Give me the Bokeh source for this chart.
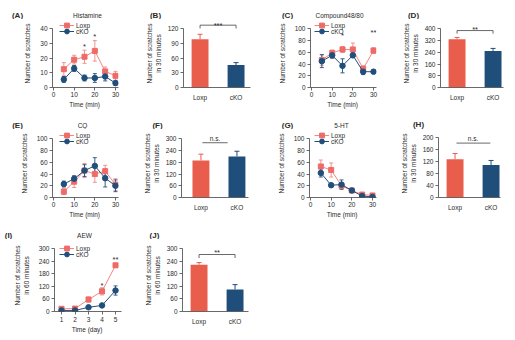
from bokeh.plotting import figure
from bokeh.layouts import row, column
from bokeh.models import (Range1d, FixedTicker, ColumnDataSource, Whisker, TeeHead,
                          Label, Legend, LegendItem)
from bokeh.embed import file_html
from bokeh.resources import INLINE

# ---------------------------------------------------------------- data
groups = ["Loxp", "cKO"]
time_min = [5, 10, 15, 20, 25, 30]
time_day = [1, 2, 3, 4, 5]

# (A) Histamine time course
hist_loxp = [12.5, 19, 21, 25, 11, 8]
hist_loxp_sem = [4.5, 3, 4.5, 7, 3, 3]
hist_cko = [5.5, 13, 6.5, 6.5, 7.5, 3]
hist_cko_sem = [2, 2, 2, 3, 3, 1.5]
# (B) Histamine, total in 30 min
hist_total = [99, 46]
hist_total_sem = [10, 5]

# (C) Compound48/80 time course
c4880_loxp = [47, 59, 65, 65, 32, 63]
c4880_loxp_sem = [9, 5, 5, 11, 5, 5]
c4880_cko = [45, 55, 37, 55, 27, 27]
c4880_cko_sem = [11, 5, 12, 4, 5, 3]
# (D) Compound48/80, total in 30 min
c4880_total = [330, 250]
c4880_total_sem = [12, 17]

# (E) CQ time course
cq_loxp = [10, 27, 46, 40, 45, 22]
cq_loxp_sem = [5, 10, 12, 14, 10, 10]
cq_cko = [23, 32, 46, 54, 33, 20]
cq_cko_sem = [5, 5, 10, 14, 15, 10]
# (F) CQ, total in 30 min
cq_total = [190, 210]
cq_total_sem = [32, 27]

# (G) 5-HT time course
ht_loxp = [53, 47, 20, 12, 5, 3.5]
ht_loxp_sem = [11, 12, 5, 3, 2, 1]
ht_cko = [42, 21, 22, 12, 2.5, 1]
ht_cko_sem = [7, 3, 8, 3, 1, 1]
# (H) 5-HT, total in 30 min
ht_total = [127, 108]
ht_total_sem = [19, 15]

# (I) AEW, scratches per 60 min over days
aew_loxp = [13, 14, 57, 96, 220]
aew_loxp_sem = [3, 3, 12, 17, 9]
aew_cko = [5, 5, 20, 29, 100]
aew_cko_sem = [2, 2, 5, 8, 22]
# (J) AEW, total in 60 min
aew_total = [223, 105]
aew_total_sem = [10, 23]

# ---------------------------------------------------------------- style
FONT = "Liberation Sans"
INK = "#2b2b2b"
AXIS = "#444444"
LOXP_BAR = "#E95D4C"
CKO_BAR = "#1F4E7B"
LOXP_LINE = "#F08884"
LOXP_MARK = "#EE6B67"
CKO_LINE = "#214F7C"
HEAD = 19          # height of the strip holding panel letters and panel titles
PAGE_W = 515
STAR_SIZE = 7.5    # px; asterisks sit about 0.57 em above the baseline

# geometry of every panel in its own canvas (px): size, frame left/right,
# pixel row of the top y tick and of y = 0 (rows counted from the strip top)
LAY = {
    "A": dict(W=125, H=110, L=52, R=118, Ta=29, B=91),
    "B": dict(W=130, H=110, L=58, R=125, Ta=29, B=91),
    "C": dict(W=128, H=110, L=55, R=121, Ta=29, B=91),
    "D": dict(W=132, H=110, L=57, R=120, Ta=29, B=91),
    "E": dict(W=125, H=110, L=52, R=118, Ta=29, B=91),
    "F": dict(W=130, H=110, L=56, R=123, Ta=29, B=91),
    "G": dict(W=128, H=110, L=54, R=121, Ta=29, B=91),
    "H": dict(W=132, H=110, L=55, R=117, Ta=27, B=89),
    "I": dict(W=125, H=120, L=54, R=121, Ta=28, B=91),
    "J": dict(W=130, H=120, L=57, R=123, Ta=28, B=91),
}


def strip(entries):
    """Full-width strip in pixel coordinates with panel letters and titles."""
    h = figure(width=PAGE_W, height=HEAD, x_range=Range1d(0, PAGE_W),
               y_range=Range1d(HEAD, 0), output_backend="svg", toolbar_location=None,
               title=None, x_axis_type=None, y_axis_type=None,
               min_border_left=0, min_border_right=0, min_border_top=0,
               min_border_bottom=0)
    h.outline_line_color = None
    h.grid.visible = False
    h.background_fill_color = "white"
    h.border_fill_color = "white"
    for text, x, y, bold in entries:
        h.add_layout(Label(x=x, y=y, text=text, text_font=FONT,
                           text_font_size="8px" if bold else "6.5px",
                           text_font_style="bold" if bold else "normal",
                           text_color=INK, text_align="center", text_baseline="middle"))
    return h


def base_fig(key, x0, xpx, ymax, yticks):
    lay = LAY[key]
    W, H, L, R, Ta, B = (lay[k] for k in ("W", "H", "L", "R", "Ta", "B"))
    ypx = (B - Ta) / ymax
    y_end = ymax + (Ta - HEAD) / ypx
    x_end = x0 + (R - L) / xpx
    p = figure(width=W, height=H - HEAD, x_range=Range1d(x0, x_end),
               y_range=Range1d(0, y_end), output_backend="svg", toolbar_location=None,
               title=None, min_border_left=L, min_border_right=W - R,
               min_border_top=0, min_border_bottom=H - B)
    p.outline_line_color = None
    p.xgrid.visible = False
    p.ygrid.visible = False
    p.background_fill_color = "white"
    p.border_fill_color = "white"
    p.yaxis.ticker = FixedTicker(ticks=yticks)
    p.yaxis.bounds = (0, ymax)
    for ax in p.axis:
        ax.axis_line_color = AXIS
        ax.axis_line_width = 0.8
        ax.major_tick_line_color = AXIS
        ax.major_tick_line_width = 0.8
        ax.major_tick_in = 0
        ax.major_tick_out = 3
        ax.minor_tick_line_color = None
        ax.major_label_text_font = FONT
        ax.major_label_text_font_size = "6.5px"
        ax.major_label_text_color = INK
        ax.axis_label_text_font = FONT
        ax.axis_label_text_font_size = "6.5px"
        ax.axis_label_text_font_style = "normal"
        ax.axis_label_text_color = INK
    p.yaxis.major_label_standoff = 2
    p.xaxis.major_label_standoff = 1
    p.xaxis.axis_label_standoff = 1

    def ty(py):
        return (B - py) / ypx

    return p, ty


def add_text(p, x, y, text, size="6.5px", baseline="middle"):
    p.add_layout(Label(x=x, y=y, text=text, text_font=FONT, text_font_size=size,
                       text_color=INK, text_align="center", text_baseline=baseline))


def add_stars(p, ty, x, center_py, text):
    # place the baseline so that the asterisks are centred on center_py
    add_text(p, x, ty(center_py + 0.57 * STAR_SIZE), text, size=f"{STAR_SIZE}px",
             baseline="alphabetic")


def legend_row(p, key, item, row_y):
    lay = LAY[key]
    leg = Legend(items=[item], location=(59 - lay["L"], lay["B"] - (row_y + 6)),
                 glyph_width=15, glyph_height=12, label_height=12, label_standoff=2,
                 spacing=0, padding=0, margin=0, border_line_color=None,
                 background_fill_alpha=0, label_text_font=FONT,
                 label_text_font_size="6.5px", label_text_color=INK)
    p.add_layout(leg)


def line_panel(key, xs, loxp, loxp_sem, cko, cko_sem, ymax, yticks, xticks, x0, xpx,
               xlabel, ylabel, stars, tick_gap=1):
    p, ty = base_fig(key, x0, xpx, ymax, yticks)
    lay = LAY[key]
    p.xaxis.ticker = FixedTicker(ticks=xticks)
    p.xaxis.major_label_standoff = tick_gap
    p.xaxis.axis_label = xlabel
    p.yaxis.axis_label = ylabel
    p.yaxis.axis_label_standoff = 6

    series = [(loxp, loxp_sem, LOXP_LINE, LOXP_MARK, "square", 5),
              (cko, cko_sem, CKO_LINE, CKO_LINE, "circle", 5.5)]
    for i, (name, (vals, sem, lc, mc, mk, ms)) in enumerate(zip(groups, series)):
        src = ColumnDataSource(dict(x=xs, y=vals,
                                    lo=[v - s for v, s in zip(vals, sem)],
                                    hi=[v + s for v, s in zip(vals, sem)]))
        p.add_layout(Whisker(source=src, base="x", lower="lo", upper="hi",
                             line_color=lc, line_width=0.9,
                             lower_head=TeeHead(size=4, line_color=lc, line_width=0.9),
                             upper_head=TeeHead(size=4, line_color=lc, line_width=0.9)))
        ln = p.line("x", "y", source=src, line_color=lc, line_width=1)
        sc = p.scatter("x", "y", source=src, marker=mk, size=ms,
                       fill_color=mc, line_color=mc)
        legend_row(p, key, LegendItem(label=name, renderers=[ln, sc]), lay["Ta"] + 6 * i)

    for xv, py, txt in stars:
        add_stars(p, ty, xv, py, txt)
    return p


def bar_panel(key, vals, sem, ymax, yticks, ylabel, x0, sig, sig_xy, bar_line, bracket):
    p, ty = base_fig(key, x0, 36, ymax, yticks)
    xs = list(range(1, len(groups) + 1))
    p.xaxis.ticker = FixedTicker(ticks=xs)
    p.xaxis.major_label_overrides = {x: g for x, g in zip(xs, groups)}
    p.xaxis.major_tick_out = 0
    p.xaxis.major_label_standoff = 6
    p.yaxis.axis_label = ylabel
    p.yaxis.axis_label_standoff = 3

    colors = [LOXP_BAR, CKO_BAR]
    src = ColumnDataSource(dict(x=xs, top=vals, color=colors))
    p.vbar(x="x", top="top", width=0.47, source=src, fill_color="color",
           line_color=None)
    for i, c in enumerate(colors):
        one = ColumnDataSource(dict(x=[xs[i]], lo=[vals[i]], hi=[vals[i] + sem[i]]))
        p.add_layout(Whisker(source=one, base="x", lower="lo", upper="hi",
                             line_color=c, line_width=1, lower_head=None,
                             upper_head=TeeHead(size=5, line_color=c, line_width=1)))

    xa, xb, py_top, py_end = bar_line
    if bracket:
        p.line([xa, xa, xb, xb], [ty(py_end), ty(py_top), ty(py_top), ty(py_end)],
               line_color=AXIS, line_width=0.8)
    else:
        p.line([xa, xb], [ty(py_top), ty(py_top)], line_color=AXIS, line_width=0.8)
    if "*" in sig:
        add_stars(p, ty, sig_xy[0], sig_xy[1], sig)
    else:
        add_text(p, sig_xy[0], ty(sig_xy[1]), sig)
    return p


YL = "Number of scratches"
YL30 = "Number of scratches\nin 30 minutes"
YL60 = "Number of scratches\nin 60 minutes"
MIN_XPX = 62 / 30
MIN_X0 = -1 / MIN_XPX

pA = line_panel("A", time_min, hist_loxp, hist_loxp_sem, hist_cko, hist_cko_sem,
                40, [0, 10, 20, 30, 40], [0, 10, 20, 30], MIN_X0, MIN_XPX,
                "Time  (min)", YL, [(15, 43, "*"), (20, 33, "*")])
pB = bar_panel("B", hist_total, hist_total_sem, 120, [0, 30, 60, 90, 120], YL30,
               0.54, "***", (1.5, 21.5), (1, 2, 25, 28.5), True)
pC = line_panel("C", time_min, c4880_loxp, c4880_loxp_sem, c4880_cko, c4880_cko_sem,
                100, [0, 20, 40, 60, 80, 100], [0, 10, 20, 30], MIN_X0, MIN_XPX,
                "Time  (min)", YL, [(15, 31.7, "*"), (30, 28.3, "**")])
pD = bar_panel("D", c4880_total, c4880_total_sem, 400, [0, 80, 160, 240, 320, 400],
               YL30, 0.54, "**", (1.5, 25), (1, 2, 30.7, 34), True)

pE = line_panel("E", time_min, cq_loxp, cq_loxp_sem, cq_cko, cq_cko_sem,
                100, [0, 20, 40, 60, 80, 100], [0, 10, 20, 30], MIN_X0, MIN_XPX,
                "Time  (min)", YL, [])
pF = bar_panel("F", cq_total, cq_total_sem, 300, [0, 60, 120, 180, 240, 300], YL30,
               0.46, "n.s.", (1.39, 29), (1.04, 1.74, 33, 33), False)
pG = line_panel("G", time_min, ht_loxp, ht_loxp_sem, ht_cko, ht_cko_sem,
                100, [0, 20, 40, 60, 80, 100], [0, 10, 20, 30], MIN_X0, MIN_XPX,
                "Time  (min)", YL, [])
pH = bar_panel("H", ht_total, ht_total_sem, 200, [0, 40, 80, 120, 160, 200], YL30,
               0.54, "n.s.", (1.5, 28), (1.04, 1.98, 33, 33), False)

pI = line_panel("I", time_day, aew_loxp, aew_loxp_sem, aew_cko, aew_cko_sem,
                300, [0, 60, 120, 180, 240, 300], time_day, 0.48, 13.5, "Time  (day)",
                YL60, [(4, 61, "*"), (5, 35, "**")], tick_gap=2)
pJ = bar_panel("J", aew_total, aew_total_sem, 300, [0, 60, 120, 180, 240, 300], YL60,
               0.54, "**", (1.5, 28), (1, 2, 34, 37.5), True)

# letters and titles, x in page pixels, y in strip pixels
strip1 = strip([("(A)", 17, 15, True), ("Histamine", 87, 15, False),
                ("(B)", 155, 15, True), ("(C)", 287, 15, True),
                ("Compound48/80", 339, 15, False), ("(D)", 413, 15, True)])
strip2 = strip([("(E)", 17, 15, True), ("CQ", 82, 15, False),
                ("(F)", 157, 15, True), ("(G)", 287, 15, True),
                ("5-HT", 341, 15, False), ("(H)", 418, 14, True)])
strip3 = strip([("(I)", 8, 14.5, True), ("AEW", 84, 14.5, False),
                ("(J)", 154, 14.5, True)])

page = column(strip1, row(pA, pB, pC, pD),
              strip2, row(pE, pF, pG, pH),
              strip3, row(pI, pJ))
open("out.html", "w").write(file_html(page, INLINE))
